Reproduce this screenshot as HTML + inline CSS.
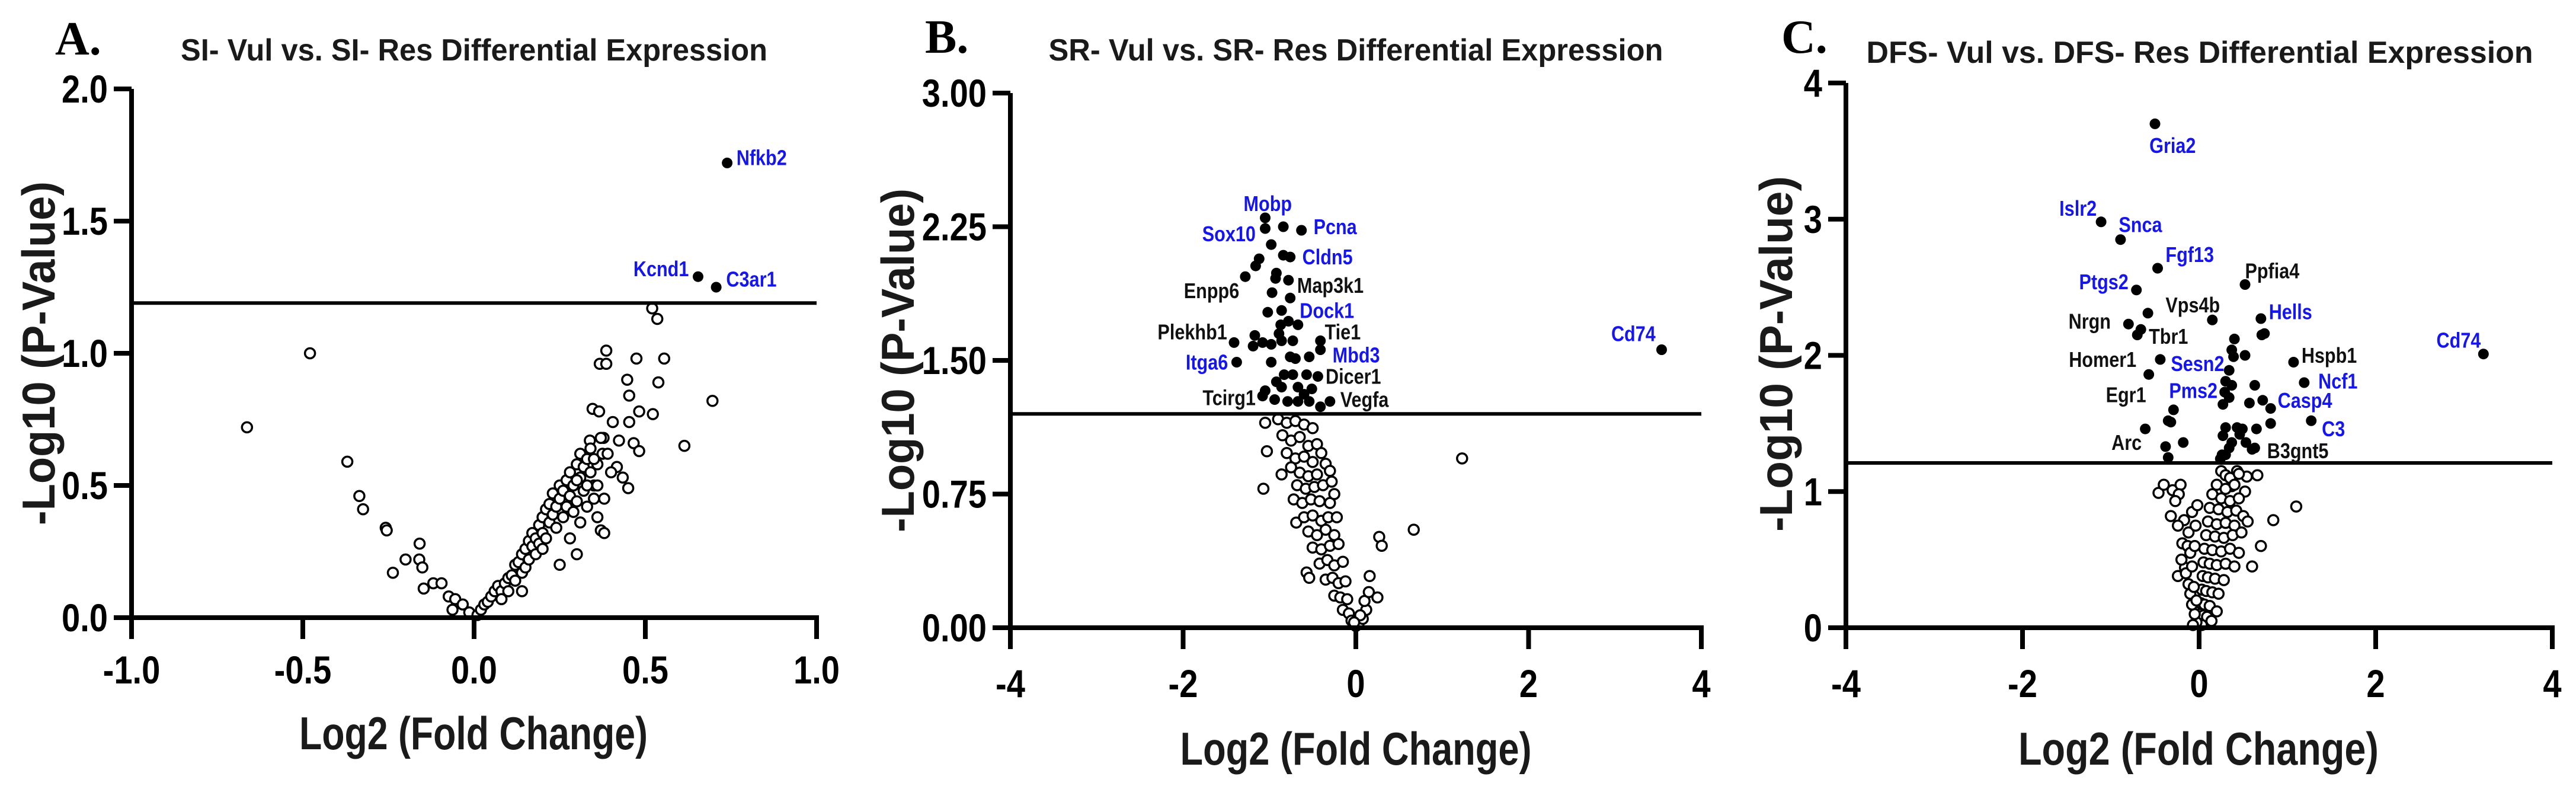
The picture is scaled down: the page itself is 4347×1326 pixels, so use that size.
<!DOCTYPE html>
<html><head><meta charset="utf-8"><title>Volcano plots</title>
<style>
html,body{margin:0;padding:0;background:#fff;}
svg{display:block;}
text{font-family:"Liberation Sans",sans-serif;font-weight:bold;}
</style></head>
<body>
<svg id="fig" width="4347" height="1326" viewBox="0 0 4347 1326" xmlns="http://www.w3.org/2000/svg"></svg>
<script>
// ---------- Panel A data ----------
const aXTicks = [-1.0, -0.5, 0.0, 0.5, 1.0];
const aXTickLabels = ["-1.0", "-0.5", "0.0", "0.5", "1.0"];
const aYTicks = [0, 0.5, 1.0, 1.5, 2.0];
const aYTickLabels = ["0.0", "0.5", "1.0", "1.5", "2.0"];
const aThreshold = 1.19;
const aSig = [[0.739,1.72],[0.654,1.29],[0.707,1.25]];
const aNs = [[0.52,1.17],[0.535,1.13],[0.386,1.01],[0.367,0.96],[0.386,0.96],[0.474,0.98],[0.555,0.98],[0.447,0.90],[0.538,0.89],[0.453,0.84],[0.696,0.82],[0.346,0.79],[0.365,0.78],[0.482,0.78],[0.522,0.77],[0.405,0.74],[0.453,0.74],[0.378,0.68],[0.338,0.67],[0.423,0.67],[0.466,0.66],[0.482,0.63],[0.614,0.65],[0.375,0.62],[0.417,0.57],[0.434,0.53],[0.45,0.49],
[-0.479,1.00],[-0.663,0.72],[-0.37,0.59],[-0.335,0.46],[-0.324,0.41],[-0.258,0.34],[-0.255,0.33],[-0.159,0.28],[-0.2,0.22],[-0.16,0.22],[-0.151,0.19],[-0.237,0.17],[-0.147,0.11],[-0.119,0.13],[-0.095,0.13],[-0.074,0.08],[-0.055,0.07],[-0.063,0.03],[-0.033,0.05],[-0.014,0.02],
[0.01,0.01],[0.02,0.03],[0.03,0.05],[0.04,0.06],[0.05,0.08],[0.06,0.1],[0.07,0.12],[0.08,0.1],[0.09,0.13],[0.1,0.15],[0.11,0.16],[0.12,0.2],[0.12,0.14],[0.13,0.21],[0.14,0.24],[0.14,0.17],[0.15,0.19],[0.15,0.26],[0.16,0.22],[0.16,0.29],[0.17,0.27],[0.17,0.32],[0.18,0.24],[0.18,0.3],[0.19,0.35],[0.19,0.28],[0.2,0.38],[0.2,0.32],[0.21,0.41],[0.21,0.3],[0.22,0.36],[0.22,0.43],[0.23,0.39],[0.23,0.47],[0.24,0.34],[0.24,0.42],[0.25,0.5],[0.25,0.45],[0.26,0.38],[0.26,0.48],[0.27,0.52],[0.27,0.42],[0.28,0.46],[0.28,0.55],[0.29,0.4],[0.29,0.5],[0.3,0.58],[0.3,0.44],[0.31,0.53],[0.31,0.62],[0.32,0.48],[0.32,0.57],[0.33,0.6],[0.33,0.42],[0.34,0.55],[0.34,0.64],[0.35,0.5],[0.35,0.45],[0.36,0.58],[0.37,0.68],[0.37,0.33],[0.38,0.32],[0.38,0.45],[0.36,0.38],[0.31,0.36],[0.3,0.24],[0.25,0.2],[0.28,0.3],[0.2,0.26],[0.14,0.1],[0.1,0.1],[0.08,0.07],[0.35,0.6],[0.39,0.62],[0.4,0.55],[0.36,0.5],[0.33,0.5],[0.3,0.52]];
const aLabels = [["Nfkb2",0.766,1.74,"start","b"],["Kcnd1",0.627,1.32,"end","b"],["C3ar1",0.736,1.28,"start","b"]];

// ---------- Panel B data ----------
const bXTicks = [-4,-2,0,2,4];
const bXTickLabels = ["-4","-2","0","2","4"];
const bYTicks = [0,0.75,1.5,2.25,3.0];
const bYTickLabels = ["0.00","0.75","1.50","2.25","3.00"];
const bThreshold = 1.20;
const bSig = [[-1.05,2.30],[-1.05,2.24],[-0.84,2.25],[-0.63,2.23],[-0.98,2.15],[-0.84,2.09],[-0.76,2.08],[-1.12,2.07],[-1.16,2.03],[-1.28,1.97],[-0.92,1.99],[-0.93,1.96],[-0.78,1.95],[-0.97,1.88],[-0.76,1.85],[-1.02,1.77],[-0.86,1.78],[-0.87,1.70],[-0.67,1.70],[-0.78,1.72],[-1.41,1.60],[-1.17,1.64],[-1.19,1.58],[-1.08,1.60],[-0.98,1.59],[-0.89,1.65],[-0.86,1.61],[-0.73,1.61],[-0.41,1.61],[-0.41,1.56],[-1.38,1.49],[-0.98,1.49],[-0.76,1.52],[-0.70,1.51],[-0.54,1.52],[-0.83,1.42],[-0.92,1.38],[-0.73,1.42],[-0.57,1.42],[-0.44,1.41],[-1.05,1.33],[-0.86,1.35],[-0.67,1.35],[-0.51,1.34],[-1.08,1.30],[-0.94,1.28],[-0.67,1.27],[-0.54,1.27],[-0.30,1.27],[-0.41,1.24],[-0.79,1.27],[-0.60,1.31],[3.54,1.56]];
const bNs = [[-1.03,0.99],[-1.07,0.78],[1.23,0.95],[0.67,0.55],[0.27,0.51],[0.30,0.46],[0.16,0.29],[0.25,0.17],[-0.57,0.31],[-0.54,0.28],[-0.69,0.59],[-0.86,0.86],[-1.05,1.15],
[-0.9,1.17],[-0.8,1.15],[-0.7,1.16],[-0.6,1.14],[-0.5,1.12],[-0.85,1.08],[-0.75,1.05],[-0.65,1.07],[-0.55,1.02],[-0.45,1.03],[-0.4,0.98],[-0.8,0.98],[-0.7,0.95],[-0.6,0.96],[-0.5,0.93],[-0.35,0.92],[-0.75,0.9],[-0.65,0.87],[-0.55,0.85],[-0.45,0.86],[-0.3,0.88],[-0.68,0.8],[-0.58,0.78],[-0.48,0.79],[-0.38,0.8],[-0.28,0.82],[-0.72,0.72],[-0.62,0.7],[-0.52,0.72],[-0.42,0.71],[-0.3,0.7],[-0.25,0.75],[-0.6,0.62],[-0.5,0.63],[-0.4,0.6],[-0.32,0.62],[-0.22,0.62],[-0.55,0.54],[-0.45,0.52],[-0.35,0.55],[-0.25,0.52],[-0.5,0.45],[-0.4,0.44],[-0.3,0.46],[-0.2,0.47],[-0.42,0.36],[-0.33,0.38],[-0.25,0.35],[-0.15,0.37],[-0.35,0.27],[-0.27,0.28],[-0.2,0.25],[-0.12,0.26],[-0.25,0.18],[-0.18,0.17],[-0.1,0.16],[-0.15,0.1],[-0.08,0.08],[-0.05,0.04],[0,0.01],[0.03,0.02],[0.08,0.05],[0.12,0.1],[0.1,0.15],[0.15,0.2],[0.05,0.07],[-0.02,0.03]];
const bLabels = [["Mobp",-1.02,2.38,"middle","b"],["Sox10",-1.16,2.21,"end","b"],["Pcna",-0.49,2.25,"start","b"],["Cldn5",-0.62,2.08,"start","b"],["Enpp6",-1.35,1.89,"end","k"],["Map3k1",-0.68,1.92,"start","k"],["Dock1",-0.65,1.78,"start","b"],["Plekhb1",-1.49,1.66,"end","k"],["Tie1",-0.36,1.66,"start","k"],["Itga6",-1.48,1.49,"end","b"],["Mbd3",-0.27,1.53,"start","b"],["Dicer1",-0.35,1.41,"start","k"],["Tcirg1",-1.16,1.29,"end","k"],["Vegfa",-0.18,1.28,"start","k"],["Cd74",3.47,1.65,"end","b"]];

// ---------- Panel C data ----------
const cXTicks = [-4,-2,0,2,4];
const cXTickLabels = ["-4","-2","0","2","4"];
const cYTicks = [0,1,2,3,4];
const cYTickLabels = ["0","1","2","3","4"];
const cThreshold = 1.21;
const cSig = [[-0.50,3.70],[-1.11,2.98],[-0.89,2.85],[-0.47,2.64],[-0.71,2.48],[0.52,2.52],[0.15,2.26],[-0.58,2.31],[-0.80,2.23],[-0.66,2.19],[-0.70,2.15],[0.70,2.27],[0.74,2.16],[0.71,2.15],[0.40,2.12],[0.37,2.04],[0.39,1.99],[0.52,2.00],[-0.44,1.97],[1.07,1.95],[3.22,2.01],[-0.57,1.86],[0.34,1.89],[1.19,1.80],[0.30,1.81],[0.37,1.78],[0.63,1.78],[0.29,1.73],[0.34,1.69],[0.72,1.67],[0.81,1.61],[0.57,1.65],[0.27,1.64],[-0.29,1.60],[-0.32,1.51],[-0.35,1.52],[1.27,1.52],[0.81,1.50],[0.30,1.47],[0.43,1.47],[0.49,1.46],[0.65,1.46],[-0.61,1.46],[0.27,1.41],[0.46,1.42],[0.37,1.36],[0.34,1.32],[-0.18,1.36],[-0.38,1.33],[-0.35,1.25],[0.60,1.31],[0.63,1.32],[0.26,1.27],[0.24,1.24],[0.30,1.27],[0.53,1.36]];
const cNs = [[1.10,0.89],[0.84,0.79],[0.70,0.60],[0.60,0.45],[-0.46,0.99],[-0.40,1.05],[-0.30,1.01],[-0.21,1.05],[-0.23,0.98],[-0.27,0.93],[-0.32,0.82],[-0.17,0.79],[-0.24,0.75],[-0.19,0.62],[-0.13,0.60],[-0.24,0.38],[-0.16,0.44],[0.66,1.12],[0.54,1.11],[0.52,1.0],[0.43,1.15],[0.37,1.04],
[0.25,1.15],[0.3,1.12],[0.35,1.1],[0.45,1.13],[0.2,1.05],[0.3,1.02],[0.4,1.05],[0.15,0.98],[0.25,0.95],[0.35,0.93],[0.45,0.95],[0.12,0.88],[0.22,0.87],[0.32,0.85],[0.42,0.86],[0.5,0.82],[0.1,0.78],[0.2,0.76],[0.3,0.77],[0.4,0.75],[0.55,0.78],[0.08,0.68],[0.18,0.67],[0.28,0.66],[0.38,0.68],[0.48,0.7],[0.06,0.58],[0.15,0.57],[0.25,0.56],[0.35,0.58],[0.45,0.55],[0.05,0.48],[0.12,0.47],[0.2,0.46],[0.3,0.47],[0.4,0.45],[0.04,0.38],[0.1,0.37],[0.18,0.36],[0.28,0.35],[0.03,0.28],[0.08,0.27],[0.15,0.26],[0.22,0.25],[0.02,0.18],[0.06,0.17],[0.12,0.16],[0.01,0.1],[0.05,0.09],[0.09,0.08],[0,0.03],[0.03,0.02],[-0.03,0.04],[-0.05,0.1],[-0.08,0.17],[-0.1,0.25],[-0.12,0.32],[-0.06,0.3],[-0.15,0.4],[-0.08,0.45],[-0.2,0.5],[-0.1,0.55],[-0.05,0.6],[-0.12,0.7],[-0.04,0.75],[-0.08,0.85],[-0.02,0.9],[-0.03,0.2],[-0.07,0.02],[0.14,0.05],[0.2,0.12]];
const cLabels = [["Gria2",-0.30,3.54,"middle","b"],["Islr2",-1.16,3.08,"end","b"],["Snca",-0.91,2.96,"start","b"],["Fgf13",-0.38,2.74,"start","b"],["Ptgs2",-0.80,2.54,"end","b"],["Ppfia4",0.52,2.62,"start","k"],["Vps4b",-0.38,2.37,"start","k"],["Nrgn",-1.0,2.25,"end","k"],["Hells",0.79,2.32,"start","b"],["Tbr1",-0.57,2.14,"start","k"],["Cd74",3.19,2.11,"end","b"],["Homer1",-0.71,1.97,"end","k"],["Hspb1",1.16,2.0,"start","k"],["Sesn2",-0.32,1.94,"start","b"],["Ncf1",1.35,1.81,"start","b"],["Egr1",-0.60,1.71,"end","k"],["Pms2",-0.34,1.74,"start","b"],["Casp4",0.89,1.67,"start","b"],["C3",1.39,1.46,"start","b"],["Arc",-0.65,1.36,"end","k"],["B3gnt5",0.77,1.30,"start","k"]];

const NS = "http://www.w3.org/2000/svg";
const svg = document.getElementById('fig');
function mk(tag, attrs, parent){
  const e = document.createElementNS(NS, tag);
  for (const k in attrs) e.setAttribute(k, attrs[k]);
  (parent||svg).appendChild(e);
  return e;
}
function condense(t, f){
  const w = t.getComputedTextLength();
  t.setAttribute('textLength', (w*f).toFixed(1));
  t.setAttribute('lengthAdjust', 'spacingAndGlyphs');
}

const panels = [
 {id:'a', letter:'A.', lx:93, ly:92, title:'SI- Vul vs. SI- Res Differential Expression', tcx:800, tcy:85, tw:990,
  x0:222, x1:1378, y0:1042, y1:150, xmin:-1, xmax:1, ymin:0, ymax:2,
  xt:aXTicks, xtl:aXTickLabels, yt:aYTicks, ytl:aYTickLabels, thr:aThreshold, sig:aSig, ns:aNs, labels:aLabels,
  xtY:1130, xTitleX:799, xTitleY:1237, xTitleW:588, yTitleX:65, yTitleY:596, yTitleW:580},
 {id:'b', letter:'B.', lx:1561, ly:89, title:'SR- Vul vs. SR- Res Differential Expression', tcx:2288, tcy:85, tw:1037,
  x0:1705, x1:2871, y0:1059, y1:157, xmin:-4, xmax:4, ymin:0, ymax:3,
  xt:bXTicks, xtl:bXTickLabels, yt:bYTicks, ytl:bYTickLabels, thr:bThreshold, sig:bSig, ns:bNs, labels:bLabels,
  xtY:1153, xTitleX:2288, xTitleY:1263, xTitleW:593, yTitleX:1515, yTitleY:608, yTitleW:580},
 {id:'c', letter:'C.', lx:3006, ly:89, title:'DFS- Vul vs. DFS- Res Differential Expression', tcx:3712, tcy:89, tw:1125,
  x0:3115, x1:4307, y0:1059, y1:140, xmin:-4, xmax:4, ymin:0, ymax:4,
  xt:cXTicks, xtl:cXTickLabels, yt:cYTicks, ytl:cYTickLabels, thr:cThreshold, sig:cSig, ns:cNs, labels:cLabels,
  xtY:1153, xTitleX:3710, xTitleY:1263, xTitleW:608, yTitleX:2997, yTitleY:597, yTitleW:600}
];

panels.forEach(p => {
  const sx = v => p.x0 + (v - p.xmin) / (p.xmax - p.xmin) * (p.x1 - p.x0);
  const sy = v => p.y0 - (v - p.ymin) / (p.ymax - p.ymin) * (p.y0 - p.y1);
  const g = mk('g', {});
  
  

  const L = mk('text', {x:p.lx, y:p.ly, 'font-size':80, style:'font-family:"Liberation Serif",serif;font-weight:bold;'}, g);
  L.textContent = p.letter;
  
  

  const T = mk('text', {x:p.tcx, y:p.tcy, 'font-size':52, 'text-anchor':'middle', 'dominant-baseline':'central', fill:'#1a1a1a'}, g);
  T.textContent = p.title;
  T.setAttribute('textLength', p.tw);
  T.setAttribute('lengthAdjust', 'spacingAndGlyphs');
  
  

  p.ns.forEach(d => {
    const c = mk('circle', {cx:sx(d[0]).toFixed(1), cy:sy(d[1]).toFixed(1), r:8.5, fill:'#fff', stroke:'#000', 'stroke-width':3.5}, g);
    
    
  });
  p.sig.forEach(d => {
    const c = mk('circle', {cx:sx(d[0]).toFixed(1), cy:sy(d[1]).toFixed(1), r:9, fill:'#000'}, g);
    
    
  });

  const ya = mk('line', {x1:p.x0, y1:p.y1, x2:p.x0, y2:p.y0 + 36, stroke:'#000', 'stroke-width':8}, g);
  
  
  const xa = mk('line', {x1:p.x0 - 30, y1:p.y0, x2:p.x1 + 4, y2:p.y0, stroke:'#000', 'stroke-width':8}, g);
  
  
  const th = mk('line', {x1:p.x0, y1:sy(p.thr), x2:p.x1, y2:sy(p.thr), stroke:'#000', 'stroke-width':6}, g);
  
  

  p.xt.forEach((v, i) => {
    const tk = mk('line', {x1:sx(v), y1:p.y0, x2:sx(v), y2:p.y0 + 36, stroke:'#000', 'stroke-width':8}, g);
    
    
    const t = mk('text', {x:sx(v), y:p.xtY, 'font-size':66, 'text-anchor':'middle', 'dominant-baseline':'central'}, g);
    t.textContent = p.xtl[i];
    condense(t, 0.85);
    
    
  });
  p.yt.forEach((v, i) => {
    const tk = mk('line', {x1:p.x0 - 30, y1:sy(v), x2:p.x0, y2:sy(v), stroke:'#000', 'stroke-width':8}, g);
    
    
    const t = mk('text', {x:p.x0 - 40, y:sy(v), 'font-size':66, 'text-anchor':'end', 'dominant-baseline':'central'}, g);
    t.textContent = p.ytl[i];
    condense(t, 0.85);
    
    
  });

  const xt = mk('text', {x:p.xTitleX, y:p.xTitleY, 'font-size':78, 'text-anchor':'middle', 'dominant-baseline':'central', fill:'#1a1a1a'}, g);
  xt.textContent = 'Log2 (Fold Change)';
  xt.setAttribute('textLength', p.xTitleW);
  xt.setAttribute('lengthAdjust', 'spacingAndGlyphs');
  
  

  const yt = mk('text', {x:0, y:0, 'font-size':78, 'text-anchor':'middle', 'dominant-baseline':'central', fill:'#1a1a1a', transform:'translate(' + p.yTitleX + ',' + p.yTitleY + ') rotate(-90)'}, g);
  yt.textContent = '-Log10 (P-Value)';
  yt.setAttribute('textLength', p.yTitleW);
  yt.setAttribute('lengthAdjust', 'spacingAndGlyphs');
  
  

  p.labels.forEach(l => {
    const t = mk('text', {x:sx(l[1]), y:sy(l[2]), 'font-size':36, 'text-anchor':l[3], 'dominant-baseline':'central', fill:(l[4] === 'b' ? '#1515ee' : '#111')}, g);
    t.textContent = l[0];
    condense(t, 0.85);
    
    
  });
});
</script>
</body></html>
